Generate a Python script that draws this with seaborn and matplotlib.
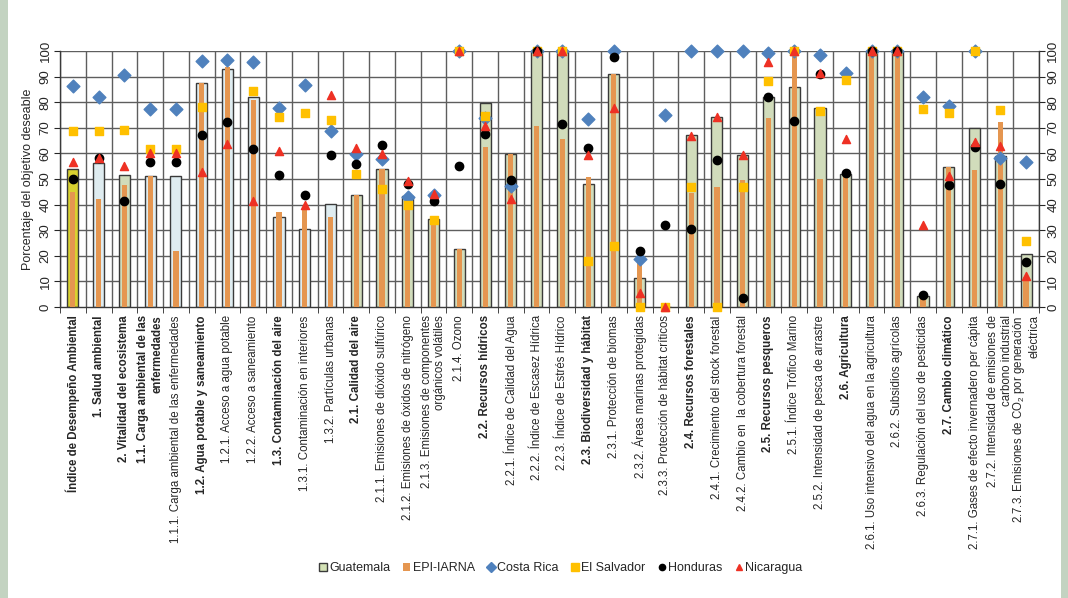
import numpy as np
import pandas as pd
import seaborn as sns
import matplotlib.pyplot as plt
from matplotlib.lines import Line2D
from matplotlib.patches import Rectangle

nan = np.nan

categories = [
    "Índice de Desempeño Ambiental",
    "1. Salud ambiental",
    "2. Vitalidad del ecosistema",
    "1.1. Carga ambiental de las\nenfermedades",
    "1.1.1. Carga ambiental de las enfermedades",
    "1.2. Agua potable y saneamiento",
    "1.2.1. Acceso a agua potable",
    "1.2.2. Acceso a saneamiento",
    "1.3. Contaminación del aire",
    "1.3.1. Contaminación en interiores",
    "1.3.2. Partículas urbanas",
    "2.1. Calidad del aire",
    "2.1.1. Emisiones de dióxido sulfúrico",
    "2.1.2. Emisiones de óxidos de nitrógeno",
    "2.1.3. Emisiones de componentes\norgánicos volátiles",
    "2.1.4. Ozono",
    "2.2. Recursos hídricos",
    "2.2.1. Índice de Calidad del Agua",
    "2.2.2. Índice de Escasez Hídrica",
    "2.2.3. Índice de Estrés Hídrico",
    "2.3. Biodiversidad y hábitat",
    "2.3.1. Protección de biomas",
    "2.3.2. Áreas marinas protegidas",
    "2.3.3. Protección de hábitat críticos",
    "2.4. Recursos forestales",
    "2.4.1. Crecimiento del stock forestal",
    "2.4.2. Cambio en  la cobertura forestal",
    "2.5. Recursos pesqueros",
    "2.5.1. Índice Trófico Marino",
    "2.5.2. Intensidad de pesca de arrastre",
    "2.6. Agricultura",
    "2.6.1. Uso intensivo del agua en la agricultura",
    "2.6.2. Subsidios agrícolas",
    "2.6.3. Regulación del uso de pesticidas",
    "2.7. Cambio climático",
    "2.7.1. Gases de efecto invernadero per cápita",
    "2.7.2. Intensidad de emisiones de\ncarbono industrial",
    "2.7.3. Emisiones de CO$_2$ por generación\neléctrica",
]
bold = [1, 1, 1, 1, 0, 1, 0, 0, 1, 0, 0, 1, 0, 0, 0, 0, 1, 0, 0, 0, 1, 0, 0, 0,
        1, 0, 0, 1, 0, 0, 1, 0, 0, 0, 1, 0, 0, 0]
# 0 = index, 1 = salud ambiental, 2 = vitalidad del ecosistema
group = [0, 1, 2, 1, 1, 1, 1, 1, 1, 1, 1] + [2] * 27

guatemala = [53.8, 56.3, 51.4, 51.2, 51.2, 87.5, 93.0, 82.0, 35.2, 30.3, 40.3,
             43.7, 54.0, 43.5, 34.3, 22.5, 79.6, 59.8, 100, 100, 48.0, 91.0,
             11.5, 0, 67.0, 74.2, 59.3, 81.9, 85.9, 77.8, 52.1, 100, 100, 4.2,
             54.8, 69.8, 59.1, 20.8]
epi_iarna = [45.0, 42.2, 47.7, 51.2, 21.9, 87.5, 93.6, 80.9, 37.2, 39.0, 35.2,
             43.7, 54.0, 43.5, 34.3, 22.5, 62.4, 59.8, 70.8, 65.7, 50.9, 91.0,
             18.3, 0, 44.6, 46.7, 49.6, 73.8, 97.8, 49.9, 52.1, 100, 100, 4.2,
             54.8, 53.4, 72.2, 11.7]
costa_rica = [86.4, 82.1, 90.6, 77.5, 77.5, 96.0, 96.5, 95.6, 77.7, 86.7, 68.7,
              59.8, 57.8, 42.8, 43.6, 100, 73.9, 47.4, 100, 100, 73.5, 100,
              18.7, 75.1, 100, 100, 100, 99.2, 100, 98.3, 91.3, 100, 100, 81.9,
              78.7, 100, 58.1, 56.5]
el_salvador = [68.9, 68.7, 69.2, 61.6, 61.6, 78.2, nan, 84.2, 74.4, 75.8, 73.1,
               52.0, 46.1, 39.7, 33.8, 100, 74.7, nan, 100, 100, 17.9, 23.8,
               0, 0, 47.0, 0, 47.0, 88.4, 100, 76.4, 88.5, 100, 100, 77.3,
               75.6, 100, 77.0, 25.7]
honduras = [49.9, 58.1, 41.5, 56.7, 56.7, 67.0, 72.2, 61.9, 51.4, 43.6, 59.5,
            55.7, 63.3, 47.9, 41.5, 55.2, 67.6, 49.6, 100, 71.4, 62.1, 97.5,
            21.9, 32.0, 30.5, 57.4, 3.7, 81.9, 72.5, 91.0, 52.5, 100, 100, 4.6,
            47.7, 62.4, 47.9, 17.5]
nicaragua = [56.8, 58.4, 55.2, 60.3, 60.3, 52.6, 63.6, 41.4, 61.1, 40.0, 82.8,
             62.1, 59.8, 49.3, 44.1, 100, 70.9, 42.0, 100, 100, 59.5, 77.7,
             5.5, 0, 66.8, 74.4, 59.4, 95.8, 100, 91.6, 65.8, 100, 100, 31.9,
             51.2, 64.4, 62.7, 12.1]

group_colors = ["#f5ea14", "#dcedf3", "#d3e1b5"]

sns.set_style("white")
plt.rcParams["font.family"] = ["Liberation Sans", "DejaVu Sans"]
plt.rcParams["mathtext.default"] = "regular"

df = pd.DataFrame({"cat": categories, "gt": guatemala, "epi": epi_iarna})
x = np.arange(len(categories))

fig = plt.figure(figsize=(10.68, 5.98), dpi=100)
fig.patch.set_facecolor("#c3d3c1")
fig.patches.append(Rectangle((8 / 1068, 0), 1053 / 1068, 1, transform=fig.transFigure,
                             facecolor="white", edgecolor="none", zorder=-1))
ax = fig.add_axes([0.0562, 0.4866, 0.9166, 0.4281])

# vertical separators and horizontal grid
for b in np.arange(len(categories) + 1) - 0.5:
    ax.axvline(b, color="#5e5e5e", lw=1.0, zorder=0)
for v in range(10, 101, 10):
    ax.axhline(v, color="#5e5e5e", lw=1.0, zorder=0)

sns.barplot(data=df, x="cat", y="gt", hue="cat", legend=False,
            palette=[group_colors[g] for g in group], width=0.43,
            edgecolor="#3a3a3a", linewidth=1.0, ax=ax, zorder=2)
sns.barplot(data=df, x="cat", y="epi", color="#e59650", saturation=1,
            width=0.2, linewidth=0, ax=ax, zorder=3)

ax.scatter(x, costa_rica, marker="D", s=42, color="#4f81bd", zorder=4, clip_on=False)
ax.scatter(x, el_salvador, marker="s", s=38, color="#ffc000", zorder=5, clip_on=False)
ax.scatter(x, honduras, marker="o", s=36, color="black", zorder=6, clip_on=False)
ax.scatter(x, nicaragua, marker="^", s=34, color="#ee3124", zorder=7, clip_on=False)

ax.set_xlim(-0.5, len(categories) - 0.5)
ax.set_ylim(0, 100)
ax.set_yticks(range(0, 101, 10))
ax.set_xlabel("")
ax.set_ylabel("Porcentaje del objetivo deseable", fontsize=9, labelpad=4)
ax.tick_params(axis="y", labelsize=9.5, length=4, direction="out", left=True,
               right=True, labelleft=True, labelright=True, labelrotation=90, pad=2)
for t in ax.get_yticklabels():
    t.set_va("center")
ax.set_xticks(x)
ax.set_xticks(np.arange(len(categories) + 1) - 0.5, minor=True)
ax.tick_params(axis="x", which="major", length=0, pad=6)
ax.tick_params(axis="x", which="minor", length=4, direction="out", bottom=True)
ax.set_xticklabels(categories, rotation=90, fontsize=8.3, va="top", ha="center",
                   multialignment="right")
for t, b in zip(ax.get_xticklabels(), bold):
    if b:
        t.set_fontweight("bold")
for s in ax.spines.values():
    s.set_color("#3a3a3a")
    s.set_linewidth(1.0)
ax.spines["top"].set_visible(False)

handles = [
    Rectangle((0, 0), 1, 1, facecolor="#d3e1b5", edgecolor="#3a3a3a", lw=1),
    Rectangle((0, 0), 1, 1, facecolor="#e59650", edgecolor="none"),
    Line2D([], [], ls="", marker="D", ms=5, color="#4f81bd"),
    Line2D([], [], ls="", marker="s", ms=5.5, color="#ffc000"),
    Line2D([], [], ls="", marker="o", ms=4.5, color="black"),
    Line2D([], [], ls="", marker="^", ms=4.5, color="#ee3124"),
]
labels = ["Guatemala", "EPI-IARNA", "Costa Rica", "El Salvador", "Honduras", "Nicaragua"]
fig.legend(handles, labels, loc="center", bbox_to_anchor=(0.525, 0.05), ncol=6,
           frameon=False, fontsize=9, handlelength=0.6, handleheight=0.6,
           handletextpad=0.2, columnspacing=1.0)

fig.savefig("out.png", dpi=100, facecolor=fig.get_facecolor())
